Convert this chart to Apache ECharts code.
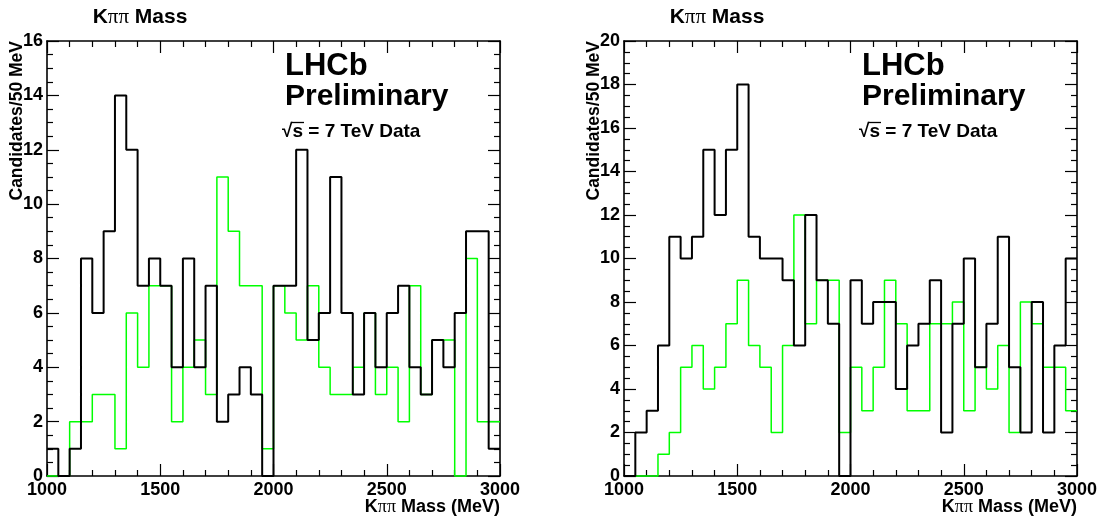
<!DOCTYPE html>
<html>
<head>
<meta charset="utf-8">
<script src="https://cdn.jsdelivr.net/npm/echarts@6/dist/echarts.min.js"></script>
<style>
  html, body { margin: 0; padding: 0; background: #fff; }
  #chart { width: 1102px; height: 521px; }
</style>
</head>
<body>
<div id="chart"></div>
<script>
// 40 bins of 50 MeV between 1000 and 3000 MeV
const massMin = 1000
const massMax = 3000
const binWidth = 50
const binEdges = Array.from({ length: 41 }, (_, i) => massMin + binWidth * i)

// left panel, candidates per bin
const leftBlack = [1, 0, 1, 8, 6, 9, 14, 12, 7, 8, 7, 4, 8, 4, 7, 2, 3, 4, 3, 0,
                   7, 7, 12, 5, 6, 11, 6, 3, 6, 4, 6, 7, 4, 3, 5, 4, 6, 9, 9, 1]
const leftGreen = [0, 0, 2, 2, 3, 3, 1, 6, 4, 7, 7, 2, 4, 5, 3, 11, 9, 7, 7, 1,
                   7, 6, 5, 7, 4, 3, 3, 4, 6, 3, 4, 2, 7, 3, 5, 5, 0, 8, 2, 2]
// right panel
const rightBlack = [0, 2, 3, 6, 11, 10, 11, 15, 12, 15, 18, 11, 10, 10, 9, 6, 12, 9, 7, 0,
                    9, 7, 8, 8, 4, 6, 7, 9, 2, 7, 10, 5, 7, 11, 5, 2, 8, 2, 6, 10]
const rightGreen = [0, 0, 0, 1, 2, 5, 6, 4, 5, 7, 9, 6, 5, 2, 6, 12, 7, 9, 9, 2,
                    5, 3, 5, 9, 7, 3, 3, 7, 7, 8, 3, 5, 4, 6, 2, 8, 7, 5, 5, 3]

const yMaxLeft = 16
const yMaxRight = 20

const FONT = 'Liberation Sans, Arial, Helvetica, sans-serif'
const SERIF = 'Liberation Serif, DejaVu Serif, serif'

function histPoints(values) {
  const pts = values.map((v, i) => [binEdges[i], v])
  pts.push([binEdges[values.length], values[values.length - 1]])
  return pts
}

const tickStyle = { color: '#000', width: 1.2 }

function xAxes(g) {
  const base = {
    gridIndex: g,
    type: 'value',
    min: massMin,
    max: massMax,
    interval: 500,
    splitLine: { show: false },
    axisLine: { show: true, onZero: false, lineStyle: { color: '#000', width: 1.6 } },
    axisTick: { show: true, inside: true, length: 12, lineStyle: tickStyle },
    minorTick: { show: true, splitNumber: 5, length: 6, lineStyle: tickStyle },
  }
  return [
    Object.assign({}, base, {
      position: 'bottom',
      axisLabel: { color: '#000', fontFamily: FONT, fontWeight: 'bold', fontSize: 18, margin: 5,
                   formatter: v => String(v) },
    }),
    Object.assign({}, base, { position: 'top', axisLabel: { show: false } }),
  ]
}

function yAxes(g, max) {
  const base = {
    gridIndex: g,
    type: 'value',
    min: 0,
    max: max,
    interval: 2,
    splitLine: { show: false },
    axisLine: { show: true, onZero: false, lineStyle: { color: '#000', width: 1.6 } },
    axisTick: { show: true, inside: true, length: 12, lineStyle: tickStyle },
    minorTick: { show: true, splitNumber: 4, length: 6, lineStyle: tickStyle },
  }
  return [
    Object.assign({}, base, {
      position: 'left',
      axisLabel: { color: '#000', fontFamily: FONT, fontWeight: 'bold', fontSize: 18, margin: 4 },
    }),
    Object.assign({}, base, { position: 'right', axisLabel: { show: false } }),
  ]
}

function hist(name, values, g, color, width) {
  return {
    name: name,
    type: 'line',
    xAxisIndex: g * 2,
    yAxisIndex: g * 2,
    step: 'end',
    symbol: 'none',
    clip: false,
    lineStyle: { color: color, width: width },
    data: histPoints(values),
  }
}

function richText(size) {
  return {
    a: { fontFamily: FONT, fontWeight: 'bold', fontSize: size, fill: '#000', color: '#000' },
    p: { fontFamily: SERIF, fontSize: size, fill: '#000', color: '#000' },
  }
}

function panelText(x0, xRight) {
  // x0: left edge of frame, xRight: right edge
  return [
    {
      type: 'text', x: x0 + 93, y: 17,
      style: { text: '{a|K}{p|ππ}{a| Mass}', rich: richText(21), align: 'center', verticalAlign: 'middle',
               textAlign: 'center', textVerticalAlign: 'middle' },
    },
    {
      type: 'text', x: x0 - 30, y: 41, rotation: Math.PI / 2,
      style: { text: 'Candidates/50 MeV', font: 'bold 17.5px ' + FONT, fill: '#000',
               align: 'right', verticalAlign: 'middle', textAlign: 'right', textVerticalAlign: 'middle' },
    },
    {
      type: 'text', x: xRight, y: 507,
      style: { text: '{a|K}{p|ππ}{a| Mass (MeV)}', rich: richText(18), align: 'right', verticalAlign: 'middle',
               textAlign: 'right', textVerticalAlign: 'middle' },
    },
    {
      type: 'text', x: x0 + 238, y: 66,
      style: { text: 'LHCb', font: 'bold 31px ' + FONT, fill: '#000', align: 'left', verticalAlign: 'middle',
               textAlign: 'left', textVerticalAlign: 'middle' },
    },
    {
      type: 'text', x: x0 + 238, y: 97,
      style: { text: 'Preliminary', font: 'bold 30px ' + FONT, fill: '#000', align: 'left', verticalAlign: 'middle',
               textAlign: 'left', textVerticalAlign: 'middle' },
    },
    {
      type: 'text', x: x0 + 235, y: 132,
      style: { text: '√s = 7 TeV Data', font: 'bold 19px ' + FONT, fill: '#000', align: 'left', verticalAlign: 'middle',
               textAlign: 'left', textVerticalAlign: 'middle' },
    },
    {
      type: 'line', shape: { x1: x0 + 244, y1: 122.5, x2: x0 + 257, y2: 122.5 },
      style: { stroke: '#000', lineWidth: 1.3 },
    },
  ]
}

const chart = echarts.init(document.getElementById('chart'), null, { renderer: 'canvas' })

chart.setOption({
  animation: false,
  backgroundColor: '#fff',
  grid: [
    { left: 47, top: 41, width: 453, height: 435 },
    { left: 624, top: 41, width: 453, height: 435 },
  ],
  xAxis: [...xAxes(0), ...xAxes(1)],
  yAxis: [...yAxes(0, yMaxLeft), ...yAxes(1, yMaxRight)],
  graphic: [...panelText(47, 500), ...panelText(624, 1077)],
  series: [
    hist('left green', leftGreen, 0, '#00ff00', 1.5),
    hist('left black', leftBlack, 0, '#000', 2),
    hist('right green', rightGreen, 1, '#00ff00', 1.5),
    hist('right black', rightBlack, 1, '#000', 2),
  ],
})
</script>
</body>
</html>
